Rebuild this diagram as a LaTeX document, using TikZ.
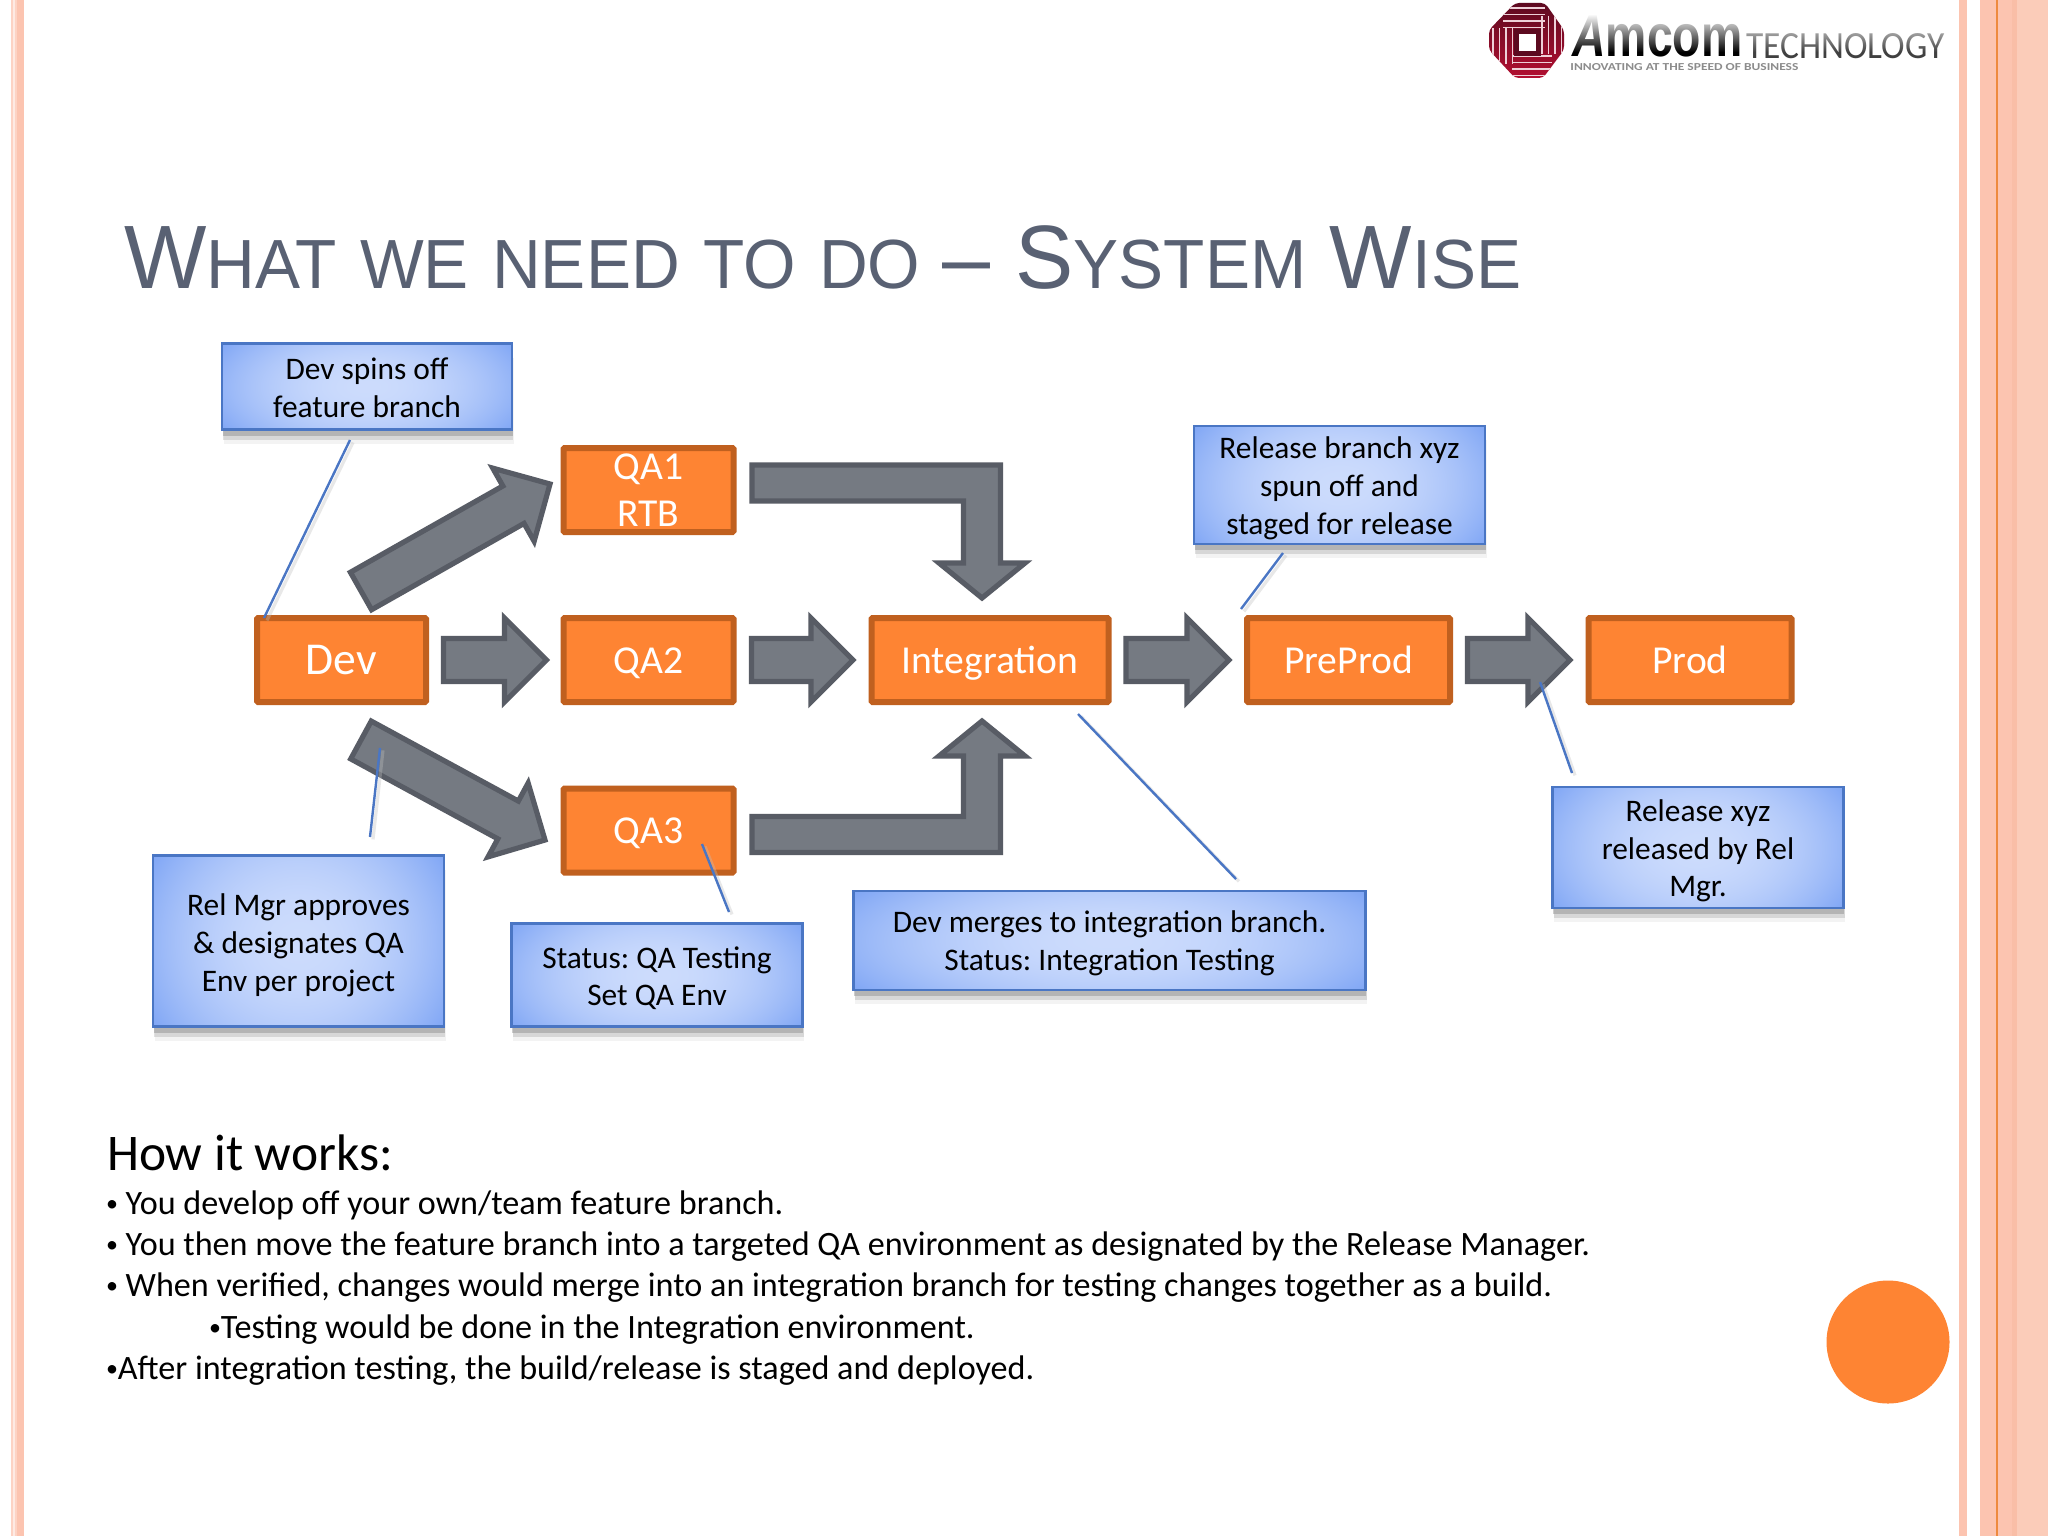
\documentclass[tikz,border=0pt]{standalone}
\usepackage{fontspec}
\usepackage{graphicx}
\usetikzlibrary{calc,shadows,fadings}
\setmainfont{Carlito}
\newfontfamily\titlefont{Liberation Sans}[FakeStretch=0.97]
\newfontfamily\logofont{Liberation Sans}
\frenchspacing

\definecolor{stageorange}{HTML}{FE8433}
\definecolor{stageedge}{HTML}{C0601F}
\definecolor{arrowfill}{HTML}{757A82}
\definecolor{arrowedge}{HTML}{585C65}
\definecolor{noteedge}{HTML}{4A76C4}
\definecolor{titlegrey}{HTML}{596173}
\definecolor{stripe}{HTML}{FCC4B0}
\definecolor{stripelight}{HTML}{FBCCB9}
\definecolor{stripedark}{HTML}{F9BEA7}
\definecolor{stripeline}{HTML}{EE8A3E}
\definecolor{logored}{HTML}{A8123A}

% light centre, darker towards the sides and corners
\pgfdeclarefunctionalshading{notefill}{\pgfpoint{-50bp}{-50bp}}{\pgfpoint{50bp}{50bp}}{}{
  25 div dup mul 0.4 mul exch 25 div dup mul add 1.4 div
  dup -0.30 mul 0.80 add exch dup -0.21 mul 0.86 add exch -0.03 mul 0.99 add
}
\tikzfading[name=logofade, top color=transparent!0, bottom color=transparent!100]

\tikzset{
  stage/.style={rectangle, draw=stageedge, fill=stageorange, line width=3pt,
    rounded corners=0.6pt, text=white, inner sep=0pt, outer sep=0pt, align=center,
    font=\fontsize{19.8}{23.5}\selectfont},
  oneline/.style={text height=13pt, text depth=0pt},
  note/.style={rectangle, draw=noteedge, shading=notefill, line width=1.3pt,
    inner sep=0pt, outer sep=0pt, align=center, text=black,
    font=\fontsize{15.7}{18.85}\selectfont,
    general shadow={fill=black!30, shadow yshift=-7pt, shadow xshift=0.8pt, opacity=.15},
    general shadow={fill=black!40, shadow yshift=-5pt, shadow xshift=0.6pt, opacity=.3},
    general shadow={fill=black!50, shadow yshift=-3pt, shadow xshift=0.4pt, opacity=.4}},
  callout/.style={draw=noteedge, line width=1.2pt,
    preaction={draw=black!25, opacity=.35, line width=1.6pt,
      transform canvas={xshift=1.5pt, yshift=-1.2pt}}},
  blockarrow/.style={draw=arrowedge, fill=arrowfill, line width=2.6pt, miter limit=8},
  body/.style={anchor=base west, inner sep=0pt, outer sep=0pt, text=black,
    font=\fontsize{17.07}{20.5}\selectfont},
  logostripe/.style={draw=white!80!logored, line width=0.6pt},
}

\newcommand{\bul}{\raisebox{1.4pt}{\fontsize{12}{14}\selectfont •}}
\newcommand{\lift}[1]{\rule{0pt}{#1pt}}
\newcommand{\tbig}[1]{{\fontsize{45}{50}\selectfont #1}}
\newcommand{\tgap}{\kern2.3pt}

% straight block arrow, tail and tip are centre line points
\newcommand{\blockarrow}[2]{%
  \coordinate (ba) at #1;
  \coordinate (bb) at #2;
  \coordinate (bn) at ($(bb)!21pt!(ba)$);
  \draw[blockarrow] ($(ba)!10.75pt!90:(bb)$) -- ($(bn)!10.75pt!90:(bb)$)
    -- ($(bn)!21pt!90:(bb)$) -- (bb) -- ($(bn)!21pt!-90:(bb)$)
    -- ($(bn)!10.75pt!-90:(bb)$) -- ($(ba)!10.75pt!-90:(bb)$) -- cycle;
}
% elbow block arrow: #1 tail, #2 tip, #3 = 1 going down, -1 going up
\newcommand{\elbowarrow}[3]{%
  \draw[blockarrow] ($(#1)+(0,-18*#3)$) -- ($(#2 |- #1)+(18.5,-18*#3)$)
    -- ($(#2)+(18.5,-35*#3)$) -- ($(#2)+(43,-35*#3)$) -- (#2)
    -- ($(#2)+(-43,-35*#3)$) -- ($(#2)+(-18.5,-35*#3)$)
    -- ($(#2 |- #1)+(-18.5,18*#3)$) -- ($(#1)+(0,18*#3)$) -- cycle;
}

\begin{document}
\begin{tikzpicture}[x=0.5pt,y=-0.5pt]
  \useasboundingbox (0,0) rectangle (2048,1536);
  \fill[white] (0,0) rectangle (2048,1536);

  % side stripes
  \fill[stripe!35] (11,0) rectangle (17,1536);
  \fill[stripe!75] (11,0) rectangle (13,1536);
  \fill[stripe!75] (15,0) rectangle (17,1536);
  \fill[stripe] (17,0) rectangle (24,1536);
  \fill[stripe] (1959,0) rectangle (1967,1536);
  \fill[stripe] (1980,0) rectangle (2012,1536);
  \fill[stripedark] (2012,0) rectangle (2017,1536);
  \fill[stripelight] (2017,0) rectangle (2048,1536);
  \fill[stripeline] (1996,0) rectangle (1998,1536);
  \fill[stageorange] (1888,1342) circle (61.5);

  % logo
  \begin{scope}
    \clip[rounded corners=2pt] (1515,3) -- (1545,3) -- (1564,30) -- (1564,50) -- (1543,78)
      -- (1515,78) -- (1489,50) -- (1489,30) -- cycle;
    \shade[top color=logored!55!black, bottom color=logored!85!red] (1488,2) rectangle (1566,80);
    \foreach \t in {0,6.5,13,19.5}{
      \draw[logostripe] (1503,{8+\t}) -- (1545,{8+\t});
      \draw[logostripe] (1512,{56+\t}) -- (1552,{56+\t});
      \draw[logostripe] ({1493+\t},28) -- ({1493+\t},64);
      \draw[logostripe] ({1542+\t},16) -- ({1542+\t},54);
    }
  \end{scope}
  \fill[logored!55!black] (1514,29) rectangle (1541,56);
  \fill[white] (1519,34) rectangle (1536,51);
  \node[inner sep=0pt, anchor=north west, text=black] (logoname) at (1572,15)
    {\resizebox{85pt}{20.5pt}{\logofont\bfseries{\itshape A}mcom}};
  \node[inner sep=0pt, anchor=north west, text=black!75] (logotech) at (1746,33)
    {\resizebox{99pt}{12.5pt}{TECHNOLOGY}};
  \node[inner sep=0pt, anchor=north west, text=black!45] (logotag) at (1570,63)
    {\resizebox{114pt}{3.5pt}{\bfseries INNOVATING AT THE SPEED OF BUSINESS}};
  \fill[white, path fading=logofade] (1570,14) rectangle (1946,52);

  % title
  \node[anchor=base west, inner sep=0pt, text=titlegrey,
      font=\titlefont\fontsize{34.8}{50}\selectfont] (title) at (124,288)
    {\tbig{W}HAT \tgap WE \tgap NEED \tgap TO \tgap DO \kern1.6pt{\fontsize{44.5}{50}\selectfont –} \kern3.3pt\tbig{S}YSTEM \tgap\tbig{W}ISE};

  % stages
  \node[stage, oneline, text height=14.5pt, minimum width=84.5pt, minimum height=42pt, font=\fontsize{22.8}{26}\selectfont] (dev) at (341.5,660) {Dev};
  \node[stage, minimum width=85pt, minimum height=42pt] (qa1) at (648.5,490) {QA1\\RTB};
  \node[stage, oneline, minimum width=85pt, minimum height=42pt] (qa2) at (648.5,660) {QA2};
  \node[stage, oneline, minimum width=85pt, minimum height=42pt] (qa3) at (648.5,830.5) {QA3};
  \node[stage, oneline, minimum width=118.5pt, minimum height=42pt] (int) at (990,660) {Integration};
  \node[stage, oneline, minimum width=101.5pt, minimum height=42pt] (pre) at (1348.5,660) {PreProd};
  \node[stage, oneline, minimum width=101.5pt, minimum height=42pt] (prod) at (1690,660) {Prod};

  % block arrows
  \blockarrow{($(dev.east)+(17.5,0)$)}{($(qa2.west)+(-17,0)$)}
  \blockarrow{($(qa2.east)+(18,0)$)}{($(int.west)+(-18.5,0)$)}
  \blockarrow{($(int.east)+(17.5,0)$)}{($(pre.west)+(-18,0)$)}
  \blockarrow{($(pre.east)+(17.5,0)$)}{($(prod.west)+(-18.5,0)$)}
  \coordinate (upTail) at (361,591);
  \coordinate (upTip) at (550,484);
  \blockarrow{(upTail)}{(upTip)}
  \coordinate (downTail) at (361,740);
  \coordinate (downTip) at (545,840);
  \blockarrow{(downTail)}{(downTip)}
  \coordinate (e1s) at (752,483);
  \coordinate (e1t) at (982,598);
  \elbowarrow{e1s}{e1t}{1}
  \coordinate (e2s) at (752,834.5);
  \coordinate (e2t) at (982,721);
  \elbowarrow{e2s}{e2t}{-1}

  % notes
  \node[note, minimum width=145pt, minimum height=43pt] (n1) at (367,386.5) {\lift{12}Dev spins off\\feature branch};
  \node[note, minimum width=145.5pt, minimum height=59pt] (n2) at (1339.5,485) {\lift{14}Release branch xyz\\spun off and\\staged for release};
  \node[note, minimum width=145.5pt, minimum height=60.5pt] (n3) at (1698,847.5) {\lift{14.3}Release xyz\\released by Rel\\Mgr.};
  \node[note, minimum width=145.5pt, minimum height=85.5pt] (n4) at (298.5,941) {\lift{15}Rel Mgr approves\\\& designates QA\\Env per project};
  \node[note, minimum width=145.5pt, minimum height=51.5pt] (n5) at (657,975) {\lift{14}Status: QA Testing\\Set QA Env};
  \node[note, minimum width=256pt, minimum height=49.5pt] (n6) at (1109.5,940.5) {\lift{14}Dev merges to integration branch.\\Status: Integration Testing};

  % callout lines
  \coordinate (c1a) at (350,440);
  \coordinate (c1b) at (264,618);
  \draw[callout] (c1a) -- (c1b);
  \coordinate (c2a) at (1283,553);
  \coordinate (c2b) at (1241,609);
  \draw[callout] (c2a) -- (c2b);
  \coordinate (c3a) at (1540,682);
  \coordinate (c3b) at (1572,773);
  \draw[callout] (c3a) -- (c3b);
  \coordinate (c4a) at (380,748);
  \coordinate (c4b) at (370,837);
  \draw[callout] (c4a) -- (c4b);
  \coordinate (c5a) at (702,844);
  \coordinate (c5b) at (729,912);
  \draw[callout] (c5a) -- (c5b);
  \coordinate (c6a) at (1078,714);
  \coordinate (c6b) at (1236,879);
  \draw[callout] (c6a) -- (c6b);

  % how it works
  \node[body, font=\fontsize{25.7}{30}\selectfont] (how) at (107,1170) {How it works:};
  \node[body] (l1) at (106,1214.5) {\bul{} You develop off your own/team feature branch.};
  \node[body] (l2) at (106,1255.5) {\bul{} You then move the feature branch into a targeted QA environment as designated by the Release Manager.};
  \node[body] (l3) at (106,1296.5) {\bul{} When verified, changes would merge into an integration branch for testing changes together as a build.};
  \node[body] (l4) at (209,1338) {\bul{}Testing would be done in the Integration environment.};
  \node[body] (l5) at (106,1379) {\bul{}After integration testing, the build/release is staged and deployed.};
\end{tikzpicture}
\end{document}
